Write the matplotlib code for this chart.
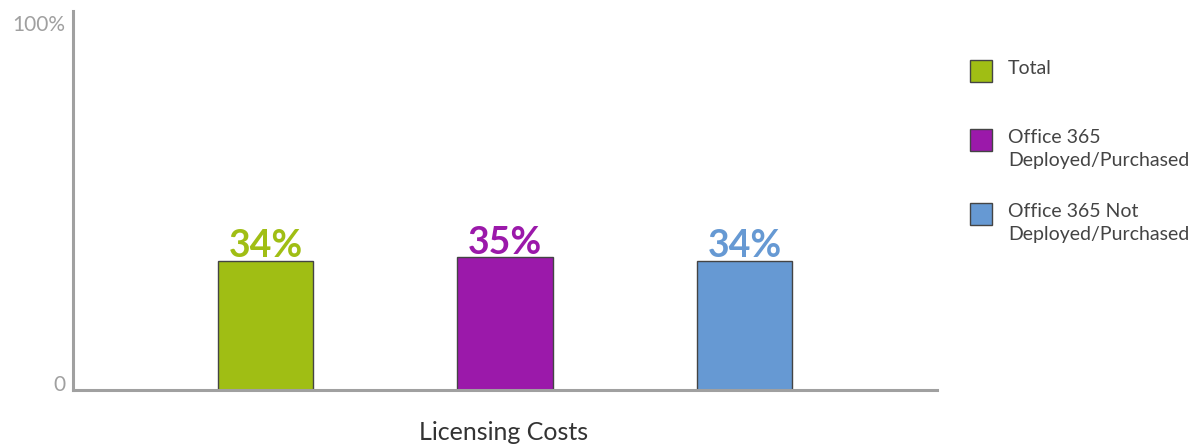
import matplotlib
matplotlib.use("Agg")
import matplotlib.pyplot as plt
from matplotlib.patches import Rectangle

plt.rcParams['font.family'] = ['Lato', 'DejaVu Sans']

# data
groups = ['Total', 'Office 365\nDeployed/Purchased', 'Office 365 Not\nDeployed/Purchased']
values = [34, 35, 34]
colors = ['#a0be14', '#9b19aa', '#6699d3']
category = 'Licensing Costs'

fig = plt.figure(figsize=(11.96, 4.47), dpi=100)
ax = fig.add_axes([73 / 1196, 1 - 390 / 447, 864 / 1196, 379 / 447])

x = list(range(len(values)))
ax.bar(x, values, width=0.397, color=colors, edgecolor='#444444', linewidth=1.0, zorder=2)
for xi, v, c in zip(x, values, colors):
    ax.text(xi, v - 0.6, f'{v}%', ha='center', va='bottom', color=c,
            fontsize=27, fontweight='bold')

ax.set_xlim(-0.804, 2.804)
ax.set_ylim(0, 100)
ax.set_xticks([])
ax.set_yticks([])
for s in ['top', 'right']:
    ax.spines[s].set_visible(False)
for s in ['left', 'bottom']:
    ax.spines[s].set_color('#a0a0a0')
    ax.spines[s].set_linewidth(2.2)

# y labels, placed like the original
ax.text(-0.009, 99, '100%', transform=ax.get_yaxis_transform(), ha='right', va='top',
        color='#a0a0a0', fontsize=15)
ax.text(-0.009, 1.4, '0', transform=ax.get_yaxis_transform(), ha='right', va='center',
        color='#a0a0a0', fontsize=15)

fig.text(504 / 1196, 1 - 432 / 447, category, ha='center', va='center',
         color='#333333', fontsize=18)

# legend drawn by hand (uneven spacing in original)
leg_y = [71, 140, 214]
for lab, c, yy in zip(groups, colors, leg_y):
    fig.patches.append(Rectangle((970 / 1196, 1 - (yy + 11) / 447), 22 / 1196, 22 / 447,
                                 transform=fig.transFigure, facecolor=c,
                                 edgecolor='#444444', linewidth=1.0))
    fig.text(1008 / 1196, 1 - (yy - 11) / 447, lab, ha='left', va='top',
             color='#444444', fontsize=14, linespacing=1.4)

fig.savefig('out.png', dpi=100)
